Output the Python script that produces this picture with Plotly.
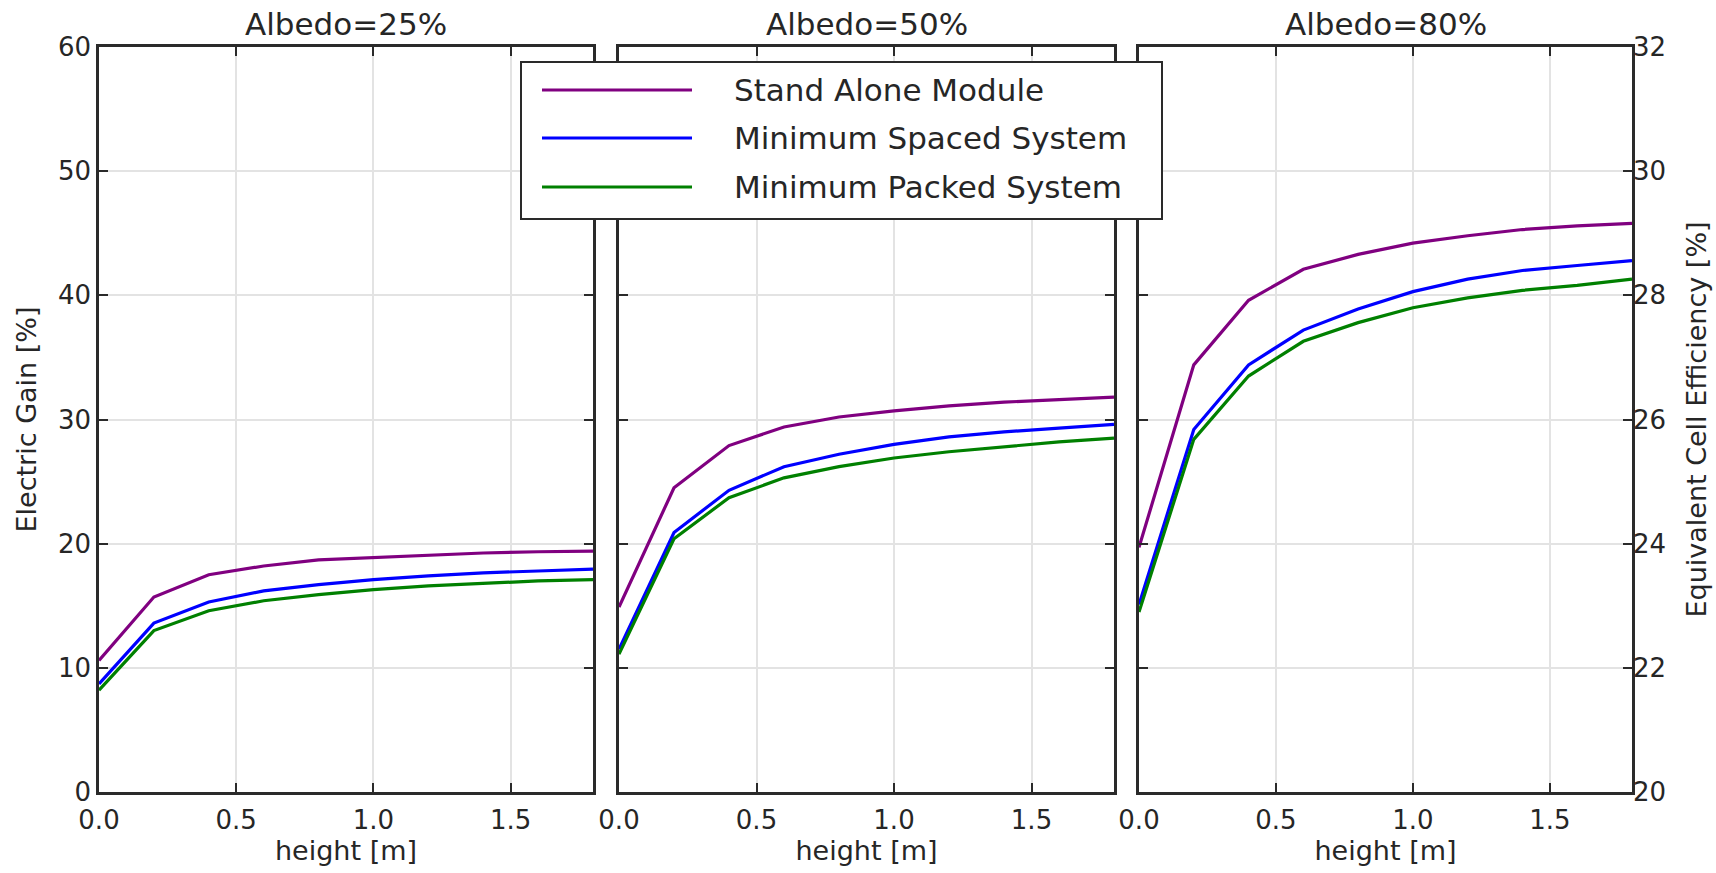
import plotly.graph_objects as go

heights = [0.0, 0.2, 0.4, 0.6, 0.8, 1.0, 1.2, 1.4, 1.6, 1.8]
series_names = ["Stand Alone Module", "Minimum Spaced System", "Minimum Packed System"]
series_colors = ["#800080", "#0000ff", "#008000"]
panel_titles = ["Albedo=25%", "Albedo=50%", "Albedo=80%"]

# Electric gain [%] per albedo
a25_stand = [10.6, 15.7, 17.5, 18.2, 18.7, 18.9, 19.1, 19.25, 19.35, 19.4]
a25_spaced = [8.7, 13.6, 15.3, 16.2, 16.7, 17.1, 17.4, 17.65, 17.8, 17.95]
a25_packed = [8.2, 13.0, 14.6, 15.4, 15.9, 16.3, 16.6, 16.8, 17.0, 17.1]

a50_stand = [14.9, 24.5, 27.9, 29.4, 30.2, 30.7, 31.1, 31.4, 31.6, 31.8]
a50_spaced = [11.5, 20.9, 24.3, 26.2, 27.2, 28.0, 28.6, 29.0, 29.3, 29.6]
a50_packed = [11.1, 20.4, 23.7, 25.3, 26.2, 26.9, 27.4, 27.8, 28.2, 28.5]

a80_stand = [19.7, 34.4, 39.6, 42.1, 43.3, 44.2, 44.8, 45.3, 45.6, 45.8]
a80_spaced = [15.1, 29.2, 34.4, 37.2, 38.9, 40.3, 41.3, 42.0, 42.4, 42.8]
a80_packed = [14.5, 28.4, 33.5, 36.3, 37.8, 39.0, 39.8, 40.4, 40.8, 41.3]

panels = [
    [a25_stand, a25_spaced, a25_packed],
    [a50_stand, a50_spaced, a50_packed],
    [a80_stand, a80_spaced, a80_packed],
]

gain_ticks = [0, 10, 20, 30, 40, 50, 60]
eff_ticks = [20, 22, 24, 26, 28, 30, 32]
x_ticks = [0.0, 0.5, 1.0, 1.5]
x_tick_text = ["0.0", "0.5", "1.0", "1.5"]

W, H = 1716, 873
FONT = "DejaVu Sans, Liberation Sans, sans-serif"
AXC = "#2a2a2a"
TXT = "#262626"
TICK_SIZE = 26
LABEL_SIZE = 27

fig = go.Figure()
for i, data in enumerate(panels):
    xa = "x" if i == 0 else f"x{i+1}"
    ya = "y" if i == 0 else f"y{i+1}"
    for name, color, ys in zip(series_names, series_colors, data):
        fig.add_trace(go.Scatter(x=heights, y=ys, mode="lines", name=name,
                                 line=dict(color=color, width=3.2),
                                 xaxis=xa, yaxis=ya, showlegend=False))
# invisible trace to activate the right-hand efficiency axis
fig.add_trace(go.Scatter(x=[None], y=[None], xaxis="x3", yaxis="y4",
                         showlegend=False, hoverinfo="skip"))

x_domains = [[99 / W, 593 / W], [619 / W, 1114 / W], [1139 / W, 1632 / W]]
y_domain = [1 - 792 / H, 1 - 47 / H]

layout = dict(
    width=W, height=H,
    margin=dict(l=0, r=0, t=0, b=0),
    paper_bgcolor="white", plot_bgcolor="white",
    font=dict(family=FONT, color=TXT, size=20),
)
for i in range(3):
    xkey = "xaxis" if i == 0 else f"xaxis{i+1}"
    ykey = "yaxis" if i == 0 else f"yaxis{i+1}"
    anchor_y = "y" if i == 0 else f"y{i+1}"
    anchor_x = "x" if i == 0 else f"x{i+1}"
    layout[xkey] = dict(
        domain=x_domains[i], anchor=anchor_y, range=[0, 1.8], automargin=False,
        tickvals=x_ticks, ticktext=x_tick_text,
        ticks="inside", ticklen=9, tickwidth=1.5, tickcolor=AXC,
        showline=True, linecolor=AXC, linewidth=2.5, mirror="ticks",
        showgrid=True, gridcolor="#e3e3e3", gridwidth=1.5, zeroline=False,
        ticklabelstandoff=3,
        tickfont=dict(size=TICK_SIZE, family=FONT, color=TXT),
        title=dict(text="height [m]", font=dict(size=LABEL_SIZE, family=FONT, color=TXT), standoff=0),
    )
    layout[ykey] = dict(
        domain=y_domain, anchor=anchor_x, range=[0, 60], automargin=False,
        tickvals=gain_ticks,
        ticks="inside", ticklen=9, tickwidth=1.5, tickcolor=AXC,
        showline=True, linecolor=AXC, linewidth=2.5, mirror="ticks",
        showgrid=True, gridcolor="#e3e3e3", gridwidth=1.5, zeroline=False,
        showticklabels=(i == 0),
        tickfont=dict(size=TICK_SIZE, family=FONT, color=TXT),
    )
layout["yaxis"]["title"] = dict(text="Electric Gain [%]",
                                font=dict(size=LABEL_SIZE, family=FONT, color=TXT), standoff=14)
layout["yaxis4"] = dict(
    overlaying="y3", anchor="x3", side="right", range=[20, 32], automargin=False,
    tickvals=eff_ticks, ticks="inside", ticklen=9, tickwidth=1.5, tickcolor=AXC,
    showgrid=False, zeroline=False, showline=False,
    tickfont=dict(size=TICK_SIZE, family=FONT, color=TXT),
    title=dict(text="Equivalent Cell Efficiency [%]",
               font=dict(size=LABEL_SIZE, family=FONT, color=TXT), standoff=22),
)
fig.update_layout(**layout)

# panel titles
for i, t in enumerate(panel_titles):
    cx = (x_domains[i][0] + x_domains[i][1]) / 2
    fig.add_annotation(x=cx, y=1 - 24 / H, xref="paper", yref="paper", text=t,
                       showarrow=False, font=dict(size=31, family=FONT, color=TXT),
                       xanchor="center", yanchor="middle")

# legend box (matplotlib style with long line samples)
bx0, bx1, by0, by1 = 521, 1162, 62, 219
fig.add_shape(type="rect", xref="paper", yref="paper",
              x0=bx0 / W, x1=bx1 / W, y0=1 - by1 / H, y1=1 - by0 / H,
              line=dict(color=AXC, width=2), fillcolor="white", layer="above")
row_y = [90, 138, 187]
for name, color, ry in zip(series_names, series_colors, row_y):
    fig.add_shape(type="line", xref="paper", yref="paper",
                  x0=542 / W, x1=692 / W, y0=1 - ry / H, y1=1 - ry / H,
                  line=dict(color=color, width=3.2), layer="above")
    fig.add_annotation(x=732 / W, y=1 - ry / H, xref="paper", yref="paper",
                       text=name, showarrow=False, xanchor="left", yanchor="middle",
                       font=dict(size=31, family=FONT, color=TXT))

fig.write_html("out.html")
